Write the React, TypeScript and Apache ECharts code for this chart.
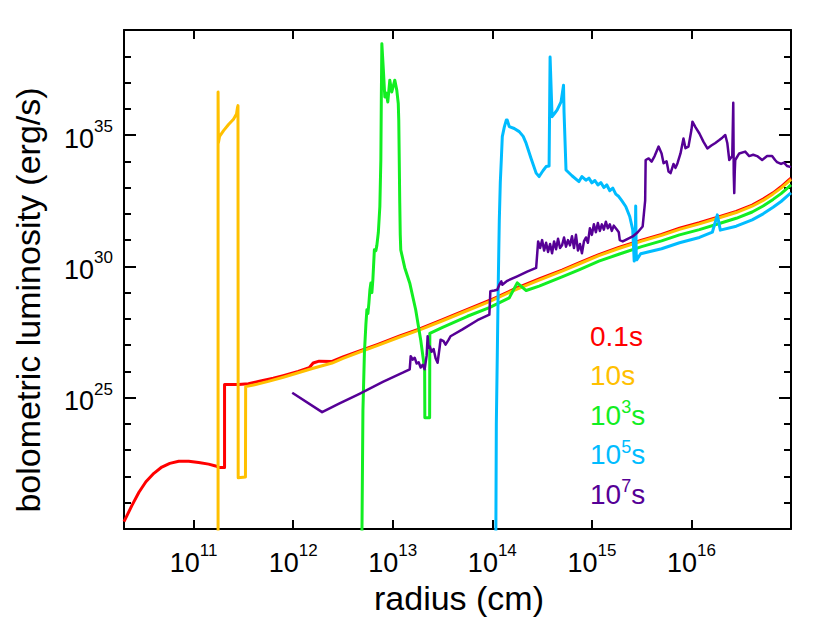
import React, { useEffect, useRef } from "react";
import * as echarts from "echarts";

// axis ticks (log10 exponents)
const xTickExps = [11, 12, 13, 14, 15, 16];
const yLabelExps = [25, 30, 35];
const legendLabels = ["0.1s", "10s", "10{s|3}s", "10{s|5}s", "10{s|7}s"];
const seriesNames = ["0.1s", "10s", "1e3s", "1e5s", "1e7s"];
const seriesColors = ["#ff0000", "#ffc000", "#12ee22", "#00bcff", "#560096"];

// [log10 radius (cm), log10 L (erg/s)]
const lum01s: number[][] = [
  [10.3, 20.28], [10.38, 20.9], [10.45, 21.4], [10.52, 21.8], [10.6, 22.12], [10.68, 22.36],
  [10.76, 22.5], [10.85, 22.58], [10.95, 22.58], [11.05, 22.53], [11.15, 22.47], [11.22, 22.4],
  [11.26, 22.34], [11.31, 22.34], [11.31, 25.5], [11.45, 25.5], [11.55, 25.53], [11.66, 25.63],
  [11.8, 25.74], [11.9, 25.84], [12.05, 26.0], [12.16, 26.14], [12.2, 26.32], [12.26, 26.39],
  [12.39, 26.38], [12.5, 26.55], [12.66, 26.77], [12.85, 27.03], [13.07, 27.35], [13.27, 27.62],
  [13.5, 27.97], [13.75, 28.36], [13.97, 28.7], [14.2, 29.1], [14.47, 29.52], [14.7, 29.86],
  [14.87, 30.13], [15.07, 30.45], [15.27, 30.72], [15.5, 31.0], [15.7, 31.22], [15.88, 31.45],
  [16.08, 31.66], [16.28, 31.89], [16.45, 32.09], [16.61, 32.33], [16.72, 32.56], [16.82, 32.8],
  [16.9, 33.03], [16.97, 33.26], [17.0, 33.36],
];

const lum10s: number[][] = [
  [11.245, 15], [11.245, 36.64], [11.248, 34.7], [11.26, 34.95], [11.3, 35.17], [11.35, 35.4],
  [11.4, 35.6], [11.43, 35.8], [11.44, 36.05], [11.445, 36.12], [11.447, 21.95], [11.52, 21.98],
  [11.522, 25.42], [11.6, 25.48], [11.75, 25.62], [11.9, 25.78], [12.05, 25.95], [12.2, 26.12],
  [12.39, 26.32], [12.5, 26.5], [12.66, 26.73], [12.85, 26.99], [13.07, 27.31], [13.27, 27.58],
  [13.5, 27.93], [13.75, 28.32], [13.97, 28.66], [14.2, 29.06], [14.47, 29.48], [14.7, 29.82],
  [14.87, 30.09], [15.07, 30.41], [15.27, 30.68], [15.5, 30.96], [15.7, 31.18], [15.88, 31.41],
  [16.08, 31.62], [16.28, 31.85], [16.45, 32.05], [16.61, 32.29], [16.72, 32.51], [16.82, 32.76],
  [16.9, 32.98], [16.97, 33.21], [17.0, 33.31],
];

const lum1e3s: number[][] = [
  [12.68, 15], [12.7, 24.5], [12.715, 26.71], [12.73, 27.8], [12.74, 28.35], [12.75, 28.2],
  [12.76, 28.6], [12.77, 29.1], [12.78, 29.37], [12.79, 29.0], [12.8, 29.5], [12.815, 30.63],
  [12.83, 30.6], [12.84, 30.8], [12.855, 31.3], [12.87, 32.28], [12.88, 34.05], [12.885, 36.5],
  [12.89, 38.48], [12.905, 37.5], [12.92, 36.45], [12.935, 36.6], [12.95, 36.26], [12.97, 37.09],
  [12.99, 36.64], [13.02, 37.09], [13.04, 36.71], [13.055, 36.2], [13.06, 35.57], [13.065, 34.0],
  [13.07, 32.41], [13.075, 31.2], [13.08, 30.63], [13.12, 29.95], [13.17, 29.37], [13.23, 28.35],
  [13.28, 27.21], [13.32, 26.08], [13.322, 24.24], [13.37, 24.24], [13.372, 27.45], [13.5, 27.68],
  [13.75, 28.1], [13.97, 28.43], [14.17, 28.8], [14.25, 29.37], [14.34, 29.08], [14.47, 29.25],
  [14.7, 29.6], [14.87, 29.87], [15.07, 30.2], [15.27, 30.46], [15.5, 30.75], [15.7, 30.97],
  [15.88, 31.2], [16.08, 31.4], [16.28, 31.63], [16.45, 31.83], [16.61, 32.07], [16.72, 32.3],
  [16.82, 32.55], [16.9, 32.77], [16.97, 33.0], [17.0, 33.1],
];

const lum1e5s: number[][] = [
  [14.03, 15], [14.04, 24.0], [14.05, 26.71], [14.06, 29.5], [14.07, 31.77], [14.08, 33.2],
  [14.09, 34.05], [14.1, 34.94], [14.12, 35.3], [14.14, 35.57], [14.15, 35.57], [14.17, 35.32],
  [14.22, 35.25], [14.27, 35.13], [14.31, 34.95], [14.34, 34.68], [14.39, 34.1], [14.44, 33.55],
  [14.47, 33.42], [14.51, 33.65], [14.54, 33.8], [14.57, 33.82], [14.58, 37.97], [14.6, 35.7],
  [14.63, 35.85], [14.65, 35.95], [14.69, 36.26], [14.715, 36.9], [14.72, 35.9], [14.74, 33.67],
  [14.8, 33.45], [14.87, 33.23], [14.9, 33.42], [14.94, 33.28], [14.97, 33.36], [15.0, 33.18],
  [15.03, 33.27], [15.06, 33.1], [15.09, 33.19], [15.12, 33.0], [15.15, 33.1], [15.18, 32.88],
  [15.21, 32.98], [15.24, 32.75], [15.27, 32.66], [15.3, 32.5], [15.34, 32.28], [15.38, 31.9],
  [15.41, 31.4], [15.425, 30.2], [15.435, 30.6], [15.44, 32.3], [15.445, 30.5], [15.45, 30.25],
  [15.49, 30.48], [15.7, 30.67], [15.88, 30.9], [16.08, 31.1], [16.21, 31.3], [16.26, 31.96],
  [16.29, 31.38], [16.45, 31.53], [16.61, 31.77], [16.72, 32.0], [16.82, 32.25], [16.9, 32.47],
  [16.97, 32.7], [17.0, 32.8],
];

const lum1e7s: number[][] = [
  [11.99, 25.19], [12.29, 24.45], [12.46, 24.77], [12.66, 25.14], [12.9, 25.6], [13.1, 25.95],
  [13.17, 26.08], [13.18, 26.58], [13.2, 26.45], [13.22, 26.52], [13.24, 26.3], [13.26, 26.35],
  [13.28, 26.15], [13.3, 26.25], [13.32, 26.08], [13.34, 26.6], [13.35, 27.34], [13.36, 26.9],
  [13.37, 26.96], [13.39, 26.75], [13.41, 26.85], [13.43, 26.5], [13.45, 26.33], [13.47, 26.9],
  [13.48, 27.21], [13.51, 27.15], [13.53, 27.02], [13.56, 27.2], [13.58, 27.34], [13.7, 27.6],
  [13.85, 27.95], [13.97, 28.16], [13.98, 29.05], [14.02, 29.08], [14.05, 29.11], [14.07, 29.3],
  [14.09, 29.43], [14.1, 29.3], [14.15, 29.45], [14.25, 29.62], [14.35, 29.8], [14.44, 29.94],
  [14.46, 30.95], [14.48, 30.7], [14.5, 31.0], [14.52, 30.6], [14.54, 30.9], [14.56, 30.55],
  [14.58, 30.85], [14.6, 30.5], [14.62, 30.95], [14.64, 30.65], [14.66, 31.05], [14.68, 30.7],
  [14.7, 30.8], [14.72, 31.1], [14.74, 30.75], [14.76, 31.0], [14.78, 30.8], [14.8, 31.15],
  [14.82, 30.7], [14.84, 31.2], [14.86, 30.6], [14.88, 30.85], [14.9, 30.5], [14.92, 30.95],
  [14.94, 31.1], [14.96, 30.9], [14.98, 31.45], [15.0, 31.2], [15.02, 31.6], [15.04, 31.3],
  [15.06, 31.65], [15.08, 31.35], [15.1, 31.6], [15.12, 31.4], [15.14, 31.7], [15.16, 31.45],
  [15.18, 31.6], [15.2, 31.35], [15.22, 31.55], [15.25, 31.4], [15.27, 31.3], [15.28, 31.0],
  [15.31, 30.95], [15.36, 31.05], [15.41, 31.14], [15.46, 31.3], [15.51, 31.52], [15.535, 32.5],
  [15.54, 34.05], [15.57, 34.11], [15.6, 33.99], [15.63, 34.2], [15.67, 34.56], [15.7, 34.3],
  [15.72, 33.93], [15.75, 34.0], [15.77, 33.61], [15.79, 33.55], [15.82, 33.9], [15.84, 33.75],
  [15.86, 33.93], [15.89, 34.3], [15.92, 34.87], [15.94, 34.5], [15.97, 34.56], [16.0, 35.2],
  [16.01, 35.51], [16.04, 35.3], [16.08, 35.06], [16.12, 34.75], [16.16, 34.49], [16.2, 34.6],
  [16.24, 34.7], [16.28, 34.81], [16.31, 34.9], [16.34, 35.0], [16.36, 34.7], [16.38, 34.05],
  [16.41, 34.2], [16.42, 36.23], [16.425, 33.5], [16.43, 32.79], [16.435, 33.6], [16.44, 34.05],
  [16.48, 34.3], [16.54, 34.37], [16.58, 34.2], [16.62, 34.25], [16.66, 34.2], [16.71, 34.05],
  [16.76, 34.2], [16.81, 34.2], [16.84, 34.05], [16.86, 33.97], [16.9, 33.9], [16.93, 33.95],
  [16.96, 33.82], [17.0, 33.78],
];

const seriesData = [lum01s, lum10s, lum1e3s, lum1e5s, lum1e7s];
const seriesWidths = [3, 3, 3, 3, 2.5];

const FONT = "'Liberation Sans', Arial, sans-serif";
const isInt = (v: number) => Math.abs(v - Math.round(v)) < 1e-6;

export default function App() {
  const ref = useRef<HTMLDivElement>(null);
  useEffect(() => {
    if (!ref.current) return;
    const chart = echarts.init(ref.current, null, { renderer: "svg" });
    const rich = {
      b: { fontSize: 27, lineHeight: 34, fontFamily: FONT, color: "#000", verticalAlign: "bottom" as const },
      s: { fontSize: 17, lineHeight: 17, fontFamily: FONT, color: "#000", verticalAlign: "top" as const },
    };
    const axisLine = { show: true, lineStyle: { color: "#000", width: 2 } };
    const xMin = 10.3;
    const xMax = 17;
    const yMin = 20;
    const yMax = 39;
    const xAxisBase = {
      type: "value" as const,
      min: xMin,
      max: xMax,
      splitLine: { show: false },
      axisLine,
      axisTick: { show: true, inside: true, length: 9, lineStyle: { color: "#000", width: 2 }, customValues: xTickExps },
    };
    const yMajor = {
      type: "value" as const,
      min: yMin,
      max: yMax,
      interval: 5,
      splitLine: { show: false },
      axisLine,
      axisTick: { show: true, inside: true, length: 12, lineStyle: { color: "#000", width: 2 } },
    };
    const yMinor = {
      type: "value" as const,
      min: yMin,
      max: yMax,
      interval: 1,
      splitLine: { show: false },
      axisLine: { show: false },
      axisLabel: { show: false },
      axisTick: { show: true, inside: true, length: 7, lineStyle: { color: "#000", width: 2 } },
    };
    const legendGraphics = legendLabels.map((t, i) => ({
      type: "text",
      x: 590,
      y: 336 + i * 39.5,
      silent: true,
      style: {
        text: t,
        fill: seriesColors[i],
        fontSize: 28,
        lineHeight: 34,
        fontFamily: FONT,
        align: "left",
        verticalAlign: "middle",
        textAlign: "left",
        textVerticalAlign: "middle",
        rich: {
          s: { fontSize: 18, lineHeight: 18, fontFamily: FONT, fill: seriesColors[i], color: seriesColors[i], verticalAlign: "top" },
        },
      },
    }));
    chart.setOption({
      animation: false,
      backgroundColor: "#fff",
      grid: { left: 124, right: 39, top: 30, bottom: 94, containLabel: false, outerBoundsMode: "none" },
      xAxis: [
        {
          ...xAxisBase,
          position: "bottom",
          axisLabel: {
            show: true,
            margin: 13,
            customValues: xTickExps,
            formatter: (v: number) =>
              isInt(v) && v >= 11 && v <= 16 ? `{b|10}{s|${Math.round(v)}}` : "",
            rich,
          },
        },
        { ...xAxisBase, position: "top", axisLabel: { show: false } },
      ],
      yAxis: [
        {
          ...yMajor,
          position: "left",
          axisLabel: {
            show: true,
            margin: 11,
            formatter: (v: number) =>
              yLabelExps.includes(Math.round(v)) && isInt(v) ? `{b|10}{s|${Math.round(v)}}` : "",
            rich,
          },
        },
        { ...yMinor, position: "left" },
        { ...yMajor, position: "right", axisLabel: { show: false } },
        { ...yMinor, position: "right" },
      ],
      series: seriesData.map((d, i) => ({
        name: seriesNames[i],
        type: "line",
        xAxisIndex: 0,
        yAxisIndex: 0,
        data: d,
        showSymbol: false,
        symbol: "none",
        clip: true,
        silent: true,
        z: 2 + i,
        lineStyle: { color: seriesColors[i], width: seriesWidths[i], join: "round" },
      })),
      graphic: [
        ...legendGraphics,
        {
          type: "text",
          x: 459,
          y: 598,
          silent: true,
          style: {
            text: "radius (cm)",
            fill: "#000",
            fontSize: 34,
            fontFamily: FONT,
            align: "center",
            verticalAlign: "middle",
            textAlign: "center",
            textVerticalAlign: "middle",
          },
        },
        {
          type: "text",
          x: 28,
          y: 300,
          rotation: Math.PI / 2,
          silent: true,
          style: {
            text: "bolometric luminosity (erg/s)",
            fill: "#000",
            fontSize: 34,
            fontFamily: FONT,
            align: "center",
            verticalAlign: "middle",
            textAlign: "center",
            textVerticalAlign: "middle",
          },
        },
      ],
    });
    return () => chart.dispose();
  }, []);
  return (
    <div
      ref={ref}
      style={{ position: "fixed", left: 0, top: 0, width: 830, height: 623, background: "#fff" }}
    />
  );
}
